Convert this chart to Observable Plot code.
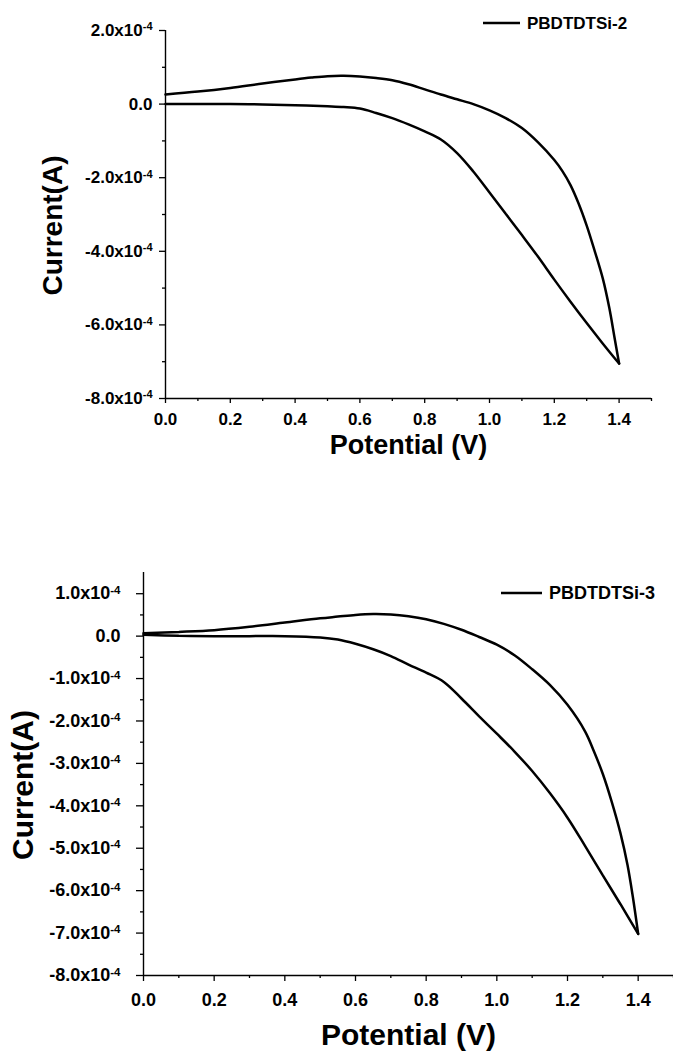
<!DOCTYPE html>
<html>
<head>
<meta charset="utf-8">
<script src="https://cdn.jsdelivr.net/npm/d3@7"></script>
<script src="https://cdn.jsdelivr.net/npm/@observablehq/plot@0.6"></script>
<style>
  body { margin: 0; background: #fff; }
  #figure { width: 673px; height: 1057px; }
  #figure svg { display: block; }
</style>
</head>
<body>
<div id="figure"></div>
<script>
// Cyclic voltammograms. Potential in V, current in units of 1e-4 A.

// PBDTDTSi-2: anodic sweep 0 -> 1.4 V
const si2ForwardV = [0.00, 0.10, 0.20, 0.30, 0.40, 0.50, 0.55, 0.60, 0.65, 0.70, 0.75, 0.80, 0.85, 0.90, 0.95, 1.00, 1.05, 1.10, 1.15, 1.20, 1.25, 1.30, 1.35, 1.40];
const si2ForwardI = [0.00, 0.00, 0.00, -0.01, -0.03, -0.06, -0.08, -0.12, -0.24, -0.38, -0.55, -0.74, -0.96, -1.33, -1.83, -2.40, -2.98, -3.56, -4.15, -4.77, -5.37, -5.95, -6.51, -7.05];
// PBDTDTSi-2: return sweep 1.4 -> 0 V
const si2ReverseV = [1.40, 1.385, 1.37, 1.35, 1.325, 1.30, 1.275, 1.25, 1.225, 1.20, 1.15, 1.10, 1.05, 1.00, 0.95, 0.90, 0.85, 0.80, 0.75, 0.70, 0.65, 0.60, 0.55, 0.50, 0.45, 0.40, 0.30, 0.20, 0.10, 0.00];
const si2ReverseI = [-7.05, -6.30, -5.55, -4.75, -4.00, -3.30, -2.70, -2.20, -1.82, -1.52, -1.04, -0.65, -0.38, -0.17, 0.00, 0.13, 0.26, 0.40, 0.54, 0.65, 0.71, 0.75, 0.77, 0.76, 0.72, 0.67, 0.56, 0.44, 0.34, 0.26];

// PBDTDTSi-3: anodic sweep 0 -> 1.4 V
const si3ForwardV = [0.00, 0.10, 0.20, 0.30, 0.40, 0.50, 0.55, 0.60, 0.65, 0.70, 0.75, 0.80, 0.85, 0.90, 0.95, 1.00, 1.05, 1.10, 1.15, 1.20, 1.25, 1.30, 1.35, 1.40];
const si3ForwardI = [0.03, 0.01, 0.00, 0.00, 0.00, -0.03, -0.08, -0.18, -0.31, -0.47, -0.67, -0.86, -1.08, -1.47, -1.89, -2.30, -2.72, -3.18, -3.70, -4.28, -4.95, -5.64, -6.32, -7.02];
// PBDTDTSi-3: return sweep 1.4 -> 0 V
const si3ReverseV = [1.40, 1.385, 1.37, 1.35, 1.325, 1.30, 1.275, 1.25, 1.20, 1.15, 1.10, 1.05, 1.00, 0.95, 0.90, 0.85, 0.80, 0.75, 0.70, 0.65, 0.60, 0.55, 0.50, 0.40, 0.30, 0.20, 0.10, 0.00];
const si3ReverseI = [-7.02, -6.15, -5.40, -4.65, -3.90, -3.25, -2.72, -2.25, -1.62, -1.15, -0.78, -0.45, -0.20, -0.02, 0.15, 0.29, 0.40, 0.47, 0.51, 0.52, 0.50, 0.46, 0.42, 0.32, 0.22, 0.14, 0.10, 0.07];

// Axis ticks
const xMajorTicks = [0.0, 0.2, 0.4, 0.6, 0.8, 1.0, 1.2, 1.4];
const xMinorTicks = [0.1, 0.3, 0.5, 0.7, 0.9, 1.1, 1.3, 1.5];
const si2YMajorTicks = [2, 0, -2, -4, -6, -8];
const si2YMinorTicks = [1, -1, -3, -5, -7];
const si3YMajorTicks = [1, 0, -1, -2, -3, -4, -5, -6, -7, -8];
const si3YMinorTicks = [0.5, -0.5, -1.5, -2.5, -3.5, -4.5, -5.5, -6.5, -7.5];

const FONT = "'Liberation Sans', Arial, Helvetica, sans-serif";

function sweepRows(fv, fi, rv, ri) {
  const rows = [];
  fv.forEach((v, k) => rows.push({v, i: fi[k], branch: "forward"}));
  rv.forEach((v, k) => rows.push({v, i: ri[k], branch: "reverse"}));
  return rows;
}

const yTickText = d => d === 0 ? "0.0" : `${d.toFixed(1)}x10^-4`;

function cvChart(cfg) {
  const rows = sweepRows(cfg.fv, cfg.fi, cfg.rv, cfg.ri);
  const svg = Plot.plot({
    width: 673,
    height: cfg.height,
    marginLeft: cfg.marginLeft,
    marginRight: cfg.marginRight,
    marginTop: cfg.marginTop,
    marginBottom: cfg.marginBottom,
    style: {fontFamily: FONT, fontWeight: "bold", fontSize: cfg.tickFont + "px", color: "black", background: "white", overflow: "visible"},
    x: {domain: [0, 1.5]},
    y: {domain: cfg.yDomain},
    marks: [
      Plot.axisX({ticks: xMajorTicks, tickSize: cfg.xTickSize, tickPadding: cfg.xTickPadding, tickFormat: d => d.toFixed(1), fontSize: cfg.tickFont, label: null, strokeWidth: 1.3}),
      Plot.axisX({ticks: xMinorTicks, tickSize: 3, tickFormat: () => "", label: null, strokeWidth: 1.3}),
      Plot.axisY({ticks: cfg.yMajor, tickSize: cfg.yTickSize, tickPadding: cfg.yTickPadding, tickFormat: yTickText, fontSize: cfg.tickFont, label: null, strokeWidth: 1.3}),
      Plot.axisY({ticks: cfg.yMinor, tickSize: 3, tickFormat: () => "", label: null, strokeWidth: 1.3}),
      Plot.ruleX([0], {stroke: "black", strokeWidth: 1.4}),
      Plot.ruleY([cfg.yDomain[0]], {stroke: "black", strokeWidth: 1.4}),
      Plot.line(rows, {x: "v", y: "i", z: "branch", stroke: "black", strokeWidth: 2.5, curve: "catmull-rom", strokeLinejoin: "miter"}),
      Plot.text(["Potential (V)"], {frameAnchor: "bottom", dy: cfg.xTitleDy, fontSize: cfg.titleFont, fontWeight: "bold", textAnchor: "middle", lineAnchor: "middle", fill: "black"}),
      Plot.text(["Current(A)"], {frameAnchor: "left", dx: cfg.yTitleDx, dy: cfg.yTitleDy, rotate: -90, fontSize: cfg.yTitleFont, fontWeight: "bold", textAnchor: "middle", lineAnchor: "middle", fill: "black"})
    ]
  });

  // exponent of the y tick labels as a raised, smaller run
  d3.select(svg).selectAll('g[aria-label="y-axis tick label"] text').each(function () {
    const parts = this.textContent.split("^");
    if (parts.length === 2) {
      const t = d3.select(this);
      t.text(null);
      t.append("tspan").text(parts[0]);
      t.append("tspan").style("font-size", cfg.supFont + "px").attr("dy", "-0.5em").text(parts[1]);
    }
  });

  // series key
  const key = d3.select(svg).append("g");
  key.append("line")
    .attr("x1", cfg.keyX).attr("x2", cfg.keyX + cfg.keyLen)
    .attr("y1", cfg.keyY).attr("y2", cfg.keyY)
    .attr("stroke", "black").attr("stroke-width", 2.6);
  key.append("text")
    .attr("x", cfg.keyX + cfg.keyLen + 7).attr("y", cfg.keyY).attr("dy", "0.36em")
    .attr("text-anchor", "start")
    .style("font-size", cfg.keyFont + "px").style("font-weight", "bold").attr("fill", "black")
    .text(cfg.name);
  return svg;
}

const fig = document.getElementById("figure");

fig.appendChild(cvChart({
  name: "PBDTDTSi-2",
  fv: si2ForwardV, fi: si2ForwardI, rv: si2ReverseV, ri: si2ReverseI,
  height: 480, marginLeft: 165, marginRight: 22, marginTop: 30, marginBottom: 82,
  yDomain: [-8, 2], yMajor: si2YMajorTicks, yMinor: si2YMinorTicks,
  tickFont: 17, supFont: 11,
  xTickSize: 5, xTickPadding: 9, yTickSize: 6, yTickPadding: 7,
  titleFont: 27, xTitleDy: 47,
  yTitleFont: 28, yTitleDx: -112, yTitleDy: 11,
  keyX: 483, keyY: 23, keyLen: 37, keyFont: 17
}));

fig.appendChild(cvChart({
  name: "PBDTDTSi-3",
  fv: si3ForwardV, fi: si3ForwardI, rv: si3ReverseV, ri: si3ReverseI,
  height: 577, marginLeft: 143, marginRight: 0, marginTop: 92, marginBottom: 82,
  yDomain: [-8, 1.5], yMajor: si3YMajorTicks, yMinor: si3YMinorTicks,
  tickFont: 18, supFont: 11.5,
  xTickSize: 6, xTickPadding: 12, yTickSize: 7, yTickPadding: 16,
  titleFont: 30, xTitleDy: 60,
  yTitleFont: 30, yTitleDx: -120, yTitleDy: 11,
  keyX: 501, keyY: 113, keyLen: 41, keyFont: 18
}));
</script>
</body>
</html>
